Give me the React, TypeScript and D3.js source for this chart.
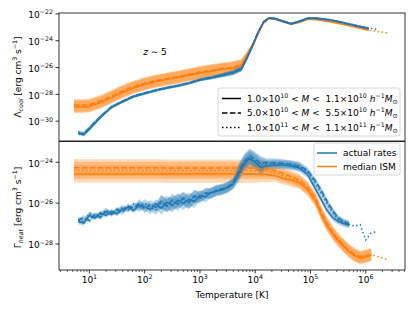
import React from 'react';
import * as d3 from 'd3';

// log10 temperature grids
const coolLogT = [0.72, 0.8, 0.9, 1.0, 1.2, 1.4, 1.6, 1.8, 2.0, 2.2, 2.4, 2.6, 2.8, 3.0, 3.2, 3.4, 3.6, 3.75, 3.85, 3.95,
  4.05, 4.15, 4.25, 4.35, 4.5, 4.65, 4.8, 4.95, 5.1, 5.3, 5.5, 5.7, 5.9, 6.05, 6.2, 6.4];

// log10 cooling rates, median ISM (orange) for the three mass bins
const coolIsmSolid = [-28.94, -28.94, -28.94, -28.9, -28.62, -28.24, -27.86, -27.52, -27.26, -27.05, -26.9, -26.75, -26.58,
  -26.42, -26.28, -26.15, -26.05, -25.85, -25.15, -24.4, -23.5, -22.65, -22.32, -22.35, -22.55, -22.75, -22.58, -22.36,
  -22.38, -22.5, -22.66, -22.83, -23.02, -23.18, null, null];
const coolIsmDashed = [-28.8, -28.8, -28.8, -28.76, -28.5, -28.12, -27.74, -27.42, -27.17, -26.97, -26.82, -26.67, -26.5,
  -26.34, -26.2, -26.07, -25.96, -25.75, -25.1, -24.35, -23.48, -22.66, -22.33, -22.36, -22.56, -22.76, -22.6, -22.38,
  -22.4, -22.52, -22.68, -22.85, -23.05, -23.2, null, null];
const coolIsmDotted = [-28.88, -28.88, -28.88, -28.84, -28.57, -28.19, -27.81, -27.48, -27.22, -27.02, -26.87, -26.72, -26.55,
  -26.39, -26.25, -26.12, -26.01, -25.8, -25.12, -24.38, -23.49, -22.65, -22.32, -22.35, -22.55, -22.75, -22.59, -22.37,
  -22.39, -22.51, -22.67, -22.84, -23.04, -23.19, -23.3, -23.42];
const coolIsmBand = [0.45, 0.45, 0.45, 0.45, 0.45, 0.45, 0.45, 0.45, 0.45, 0.45, 0.45, 0.45, 0.45, 0.45, 0.45, 0.45, 0.45,
  0.4, 0.3, 0.2, 0.15, 0.12, 0.1, 0.1, 0.1, 0.1, 0.1, 0.1, 0.1, 0.1, 0.1, 0.1, 0.1, 0.1, null, null];

// log10 cooling rates, actual (blue)
const coolActSolid = [null, -30.88, -31.0, -30.6, -29.72, -28.98, -28.55, -28.18, -27.94, -27.72, -27.52, -27.38, -27.18,
  -26.93, -26.78, -26.6, -26.4, -26.12, -25.3, -24.4, -23.4, -22.6, -22.3, -22.34, -22.54, -22.73, -22.55, -22.33,
  -22.32, -22.42, -22.57, -22.76, -22.95, -23.08, null, null];
const coolActDashed = [null, -30.95, -30.9, -30.5, -29.65, -28.92, -28.5, -28.12, -27.9, -27.68, -27.5, -27.33, -27.14,
  -26.9, -26.74, -26.56, -26.36, -26.05, -25.25, -24.35, -23.38, -22.6, -22.31, -22.35, -22.55, -22.74, -22.56, -22.34,
  -22.33, -22.43, -22.58, -22.78, -22.97, -23.1, null, null];
const coolActDotted = [null, -30.8, -30.98, -30.55, -29.68, -28.95, -28.52, -28.15, -27.92, -27.7, -27.51, -27.36, -27.16,
  -26.91, -26.76, -26.58, -26.38, -26.08, -25.28, -24.38, -23.39, -22.6, -22.3, -22.34, -22.54, -22.73, -22.55, -22.33,
  -22.31, -22.4, -22.55, -22.74, -22.92, -23.05, -23.15, null];
const coolActBand = [0.12, 0.12, 0.15, 0.15, 0.12, 0.1, 0.1, 0.1, 0.1, 0.1, 0.1, 0.1, 0.1, 0.12, 0.12, 0.15, 0.18, 0.2,
  0.2, 0.15, 0.12, 0.1, 0.08, 0.08, 0.08, 0.08, 0.08, 0.08, 0.08, 0.08, 0.08, 0.08, 0.08, 0.08, null, null];

const heatLogT = [0.72, 0.8, 0.9, 1.0, 1.1, 1.2, 1.3, 1.4, 1.5, 1.6, 1.7, 1.8, 1.9, 2.0, 2.1, 2.2, 2.3, 2.4, 2.5, 2.6,
  2.7, 2.8, 2.9, 3.0, 3.1, 3.2, 3.3, 3.4, 3.5, 3.6, 3.7, 3.8, 3.9, 4.0, 4.1, 4.2, 4.35, 4.5, 4.65, 4.8, 4.95, 5.1, 5.2,
  5.3, 5.4, 5.5, 5.6, 5.7, 5.8, 5.9, 6.0, 6.1, 6.2, 6.3, 6.4];

// log10 heating rates, median ISM (orange)
const heatIsmSolid = [-24.57, -24.57, -24.57, -24.57, -24.57, -24.57, -24.57, -24.57, -24.57, -24.57, -24.57, -24.57,
  -24.57, -24.57, -24.57, -24.57, -24.57, -24.58, -24.58, -24.58, -24.58, -24.58, -24.58, -24.58, -24.58, -24.58, -24.58,
  -24.58, -24.58, -24.58, -24.58, -24.58, -24.58, -24.58, -24.58, -24.6, -24.65, -24.78, -24.88, -25.0, -25.35, -25.95,
  -26.6, -27.1, -27.5, -27.85, -28.12, -28.38, -28.58, -28.7, -28.63, -28.55, null, null, null];
const heatIsmDashed = [-24.27, -24.27, -24.27, -24.27, -24.27, -24.27, -24.27, -24.27, -24.27, -24.27, -24.27, -24.27,
  -24.27, -24.27, -24.27, -24.27, -24.27, -24.28, -24.28, -24.28, -24.28, -24.28, -24.28, -24.28, -24.28, -24.28, -24.28,
  -24.28, -24.28, -24.28, -24.28, -24.28, -24.28, -24.28, -24.3, -24.32, -24.4, -24.55, -24.7, -24.88, -25.22, -25.8,
  -26.45, -26.98, -27.4, -27.75, -28.05, -28.3, -28.5, -28.62, -28.57, -28.5, null, null, null];
const heatIsmDotted = [-24.4, -24.4, -24.4, -24.4, -24.4, -24.4, -24.4, -24.4, -24.4, -24.4, -24.4, -24.4, -24.4, -24.4,
  -24.4, -24.4, -24.4, -24.4, -24.4, -24.4, -24.4, -24.4, -24.4, -24.4, -24.4, -24.4, -24.4, -24.4, -24.4, -24.4, -24.4,
  -24.4, -24.4, -24.4, -24.42, -24.44, -24.52, -24.66, -24.8, -24.95, -25.3, -25.88, -26.52, -27.04, -27.45, -27.8,
  -28.08, -28.34, -28.54, -28.66, -28.6, -28.53, -28.6, -28.68, -28.78];
const heatIsmBand = [0.42, 0.42, 0.42, 0.42, 0.42, 0.42, 0.42, 0.42, 0.42, 0.42, 0.42, 0.42, 0.42, 0.42, 0.42, 0.42,
  0.42, 0.42, 0.42, 0.42, 0.42, 0.42, 0.42, 0.42, 0.42, 0.42, 0.42, 0.42, 0.42, 0.42, 0.42, 0.42, 0.42, 0.42, 0.4, 0.38,
  0.32, 0.3, 0.3, 0.3, 0.3, 0.3, 0.3, 0.3, 0.3, 0.3, 0.3, 0.3, 0.3, 0.3, 0.3, 0.3, null, null, null];

// log10 heating rates, actual (blue)
const heatActSolid = [null, -26.91, -26.98, -26.6, -26.72, -26.48, -26.6, -26.4, -26.52, -26.3, -26.2, -26.36, -26.1,
  -26.18, -26.32, -26.02, -26.25, -25.95, -26.12, -25.85, -26.02, -25.8, -25.92, -25.62, -25.7, -25.48, -25.42, -25.36,
  -25.25, -25.08, -24.6, -24.1, -23.82, -24.0, -24.25, -24.18, -24.13, -24.14, -24.18, -24.28, -24.62, -25.35, -25.85,
  -26.35, -26.7, -26.9, -27.0, -27.06, null, null, null, null, null, null, null];
const heatActDashed = [null, -26.85, -26.7, -26.85, -26.55, -26.7, -26.42, -26.55, -26.3, -26.45, -26.15, -26.25, -26.0,
  -26.3, -26.05, -26.2, -25.9, -26.15, -25.85, -26.05, -25.75, -25.95, -25.65, -25.75, -25.5, -25.55, -25.35, -25.3,
  -25.2, -25.0, -24.45, -23.95, -23.68, -23.85, -24.05, -24.0, -24.02, -24.05, -24.1, -24.18, -24.4, -24.95, -25.4,
  -25.9, -26.35, -26.72, -26.9, -27.0, null, null, null, null, null, null, null];
const heatActDotted = [null, -26.8, -26.9, -26.5, -26.65, -26.58, -26.35, -26.5, -26.4, -26.2, -26.35, -26.05, -26.25,
  -26.0, -26.2, -26.35, -25.95, -26.1, -26.0, -25.9, -25.8, -25.98, -25.7, -25.68, -25.55, -25.5, -25.38, -25.32,
  -25.22, -25.05, -24.5, -24.0, -23.75, -23.9, -24.12, -24.08, -24.06, -24.08, -24.12, -24.22, -24.48, -25.1, -25.55,
  -26.05, -26.45, -26.78, -26.95, -27.05, -27.12, -27.05, -27.8, -27.45, -27.4, null, null];
const heatActBand = [null, 0.12, 0.12, 0.12, 0.12, 0.12, 0.12, 0.12, 0.12, 0.12, 0.12, 0.12, 0.2, 0.2, 0.2, 0.2, 0.32,
  0.32, 0.32, 0.32, 0.32, 0.32, 0.32, 0.25, 0.25, 0.25, 0.25, 0.25, 0.25, 0.25, 0.35, 0.35, 0.35, 0.35, 0.35, 0.2, 0.2,
  0.2, 0.2, 0.2, 0.15, 0.15, 0.15, 0.15, 0.15, 0.15, 0.15, 0.15, null, null, null, null, null, null, null];

const xMajor = [1, 2, 3, 4, 5, 6];
const yTopMajor = [-22, -24, -26, -28, -30];
const yBotMajor = [-24, -26, -28];
const massLabels = [
  ['1.0', '10', '1.1', '10'],
  ['5.0', '10', '5.5', '10'],
  ['1.0', '11', '1.1', '11'],
];
const kindLabels = ['actual rates', 'median ISM'];

const BLUE = '#1f77b4';
const ORANGE = '#ff7f0e';
const FONT = 'DejaVu Sans';
const dashes = [null, '5.5,2.4', '1.5,2.5'];

const L = 59, R = 405;
const T1 = 13, B1 = 141, T2 = 141, B2 = 270;

const x = d3.scaleLog().domain([10 ** 0.45, 10 ** 6.71]).range([L, R]);
const yTop = d3.scaleLog().domain([10 ** -31.48, 10 ** -21.93]).range([B1, T1]);
const yBot = d3.scaleLog().domain([10 ** -29.27, 10 ** -22.96]).range([B2, T2]);

type Seg = { t: string; s?: 'sup' | 'sub'; i?: boolean };

function Rich({ segs, size = 9, ...rest }: { segs: Seg[]; size?: number; [k: string]: any }) {
  let cur = 0;
  return (
    <text fontSize={size} style={{ whiteSpace: 'pre' }} {...rest}>
      {segs.map((g, k) => {
        const target = g.s === 'sup' ? -size * 0.42 : g.s === 'sub' ? size * 0.22 : 0;
        const dy = target - cur;
        cur = target;
        return (
          <tspan key={k} dy={dy} fontSize={g.s ? size * 0.7 : size} fontStyle={g.i ? 'italic' : 'normal'}>
            {g.t}
          </tspan>
        );
      })}
    </text>
  );
}

type P = { t: number; v: number | null; w: number | null };

function pts(xs: number[], ys: (number | null)[], band: (number | null)[]): P[] {
  return xs.map((t, i) => ({ t, v: ys[i], w: band[i] }));
}

function bandPath(p: P[], y: any) {
  return d3.area<P>()
    .defined(d => d.v != null && d.w != null)
    .x(d => x(10 ** d.t))
    .y0(d => y(10 ** ((d.v as number) - (d.w as number))))
    .y1(d => y(10 ** ((d.v as number) + (d.w as number))))(p) || '';
}

function linePath(p: P[], y: any) {
  return d3.line<P>()
    .defined(d => d.v != null)
    .x(d => x(10 ** d.t))
    .y(d => y(10 ** (d.v as number)))(p) || '';
}

function Panel({ groups, y, clip }: { groups: { color: string; data: P[][] }[]; y: any; clip: string }) {
  return (
    <g clipPath={`url(#${clip})`}>
      {groups.map((g, gi) => g.data.map((p, k) => (
        <path key={`b${gi}${k}`} d={bandPath(p, y)} fill={g.color} fillOpacity={0.3} stroke="none" />
      )))}
      {groups.map((g, gi) => g.data.map((p, k) => (
        <path key={`l${gi}${k}`} d={linePath(p, y)} fill="none" stroke={g.color} strokeWidth={1.5}
          strokeDasharray={dashes[k] || undefined} />
      )))}
    </g>
  );
}

function YAxis({ y, ticks }: { y: any; ticks: number[] }) {
  return (
    <g>
      {ticks.map(t => {
        const yy = y(10 ** t);
        return (
          <g key={t}>
            <line x1={L - 3.5} x2={L} y1={yy} y2={yy} stroke="#000" strokeWidth={0.8} />
            <Rich segs={[{ t: '10' }, { t: `\u2212${-t}`, s: 'sup' }]} x={L - 6} y={yy + 4.3} textAnchor="end" />
          </g>
        );
      })}
    </g>
  );
}

export default function App() {
  const top = [
    { color: ORANGE, data: [pts(coolLogT, coolIsmSolid, coolIsmBand), pts(coolLogT, coolIsmDashed, coolIsmBand), pts(coolLogT, coolIsmDotted, coolIsmBand)] },
    { color: BLUE, data: [pts(coolLogT, coolActSolid, coolActBand), pts(coolLogT, coolActDashed, coolActBand), pts(coolLogT, coolActDotted, coolActBand)] },
  ];
  const bot = [
    { color: ORANGE, data: [pts(heatLogT, heatIsmSolid, heatIsmBand), pts(heatLogT, heatIsmDashed, heatIsmBand), pts(heatLogT, heatIsmDotted, heatIsmBand)] },
    { color: BLUE, data: [pts(heatLogT, heatActSolid, heatActBand), pts(heatLogT, heatActDashed, heatActBand), pts(heatLogT, heatActDotted, heatActBand)] },
  ];

  const [d0, d1] = x.domain();
  const minor: number[] = [];
  for (let k = 0; k <= 6; k++) {
    for (let m = 2; m <= 9; m++) {
      const v = m * 10 ** k;
      if (v >= d0 && v <= d1) minor.push(v);
    }
  }

  return (
    <svg width={415} height={311} style={{ position: 'absolute', left: 0, top: 0 }} fontFamily={FONT}>
      <defs>
        <clipPath id="clipTop"><rect x={L} y={T1} width={R - L} height={B1 - T1} /></clipPath>
        <clipPath id="clipBot"><rect x={L} y={T2} width={R - L} height={B2 - T2} /></clipPath>
      </defs>
      <rect width={415} height={311} fill="#fff" />

      <Panel groups={top} y={yTop} clip="clipTop" />
      <Panel groups={bot} y={yBot} clip="clipBot" />

      <rect x={L} y={T1} width={R - L} height={B1 - T1} fill="none" stroke="#000" strokeWidth={0.8} />
      <rect x={L} y={T2 + 0.6} width={R - L} height={B2 - T2 - 0.6} fill="none" stroke="#000" strokeWidth={0.8} />

      <YAxis y={yTop} ticks={yTopMajor} />
      <YAxis y={yBot} ticks={yBotMajor} />

      {minor.map(v => (
        <line key={v} x1={x(v)} x2={x(v)} y1={B2} y2={B2 + 2} stroke="#000" strokeWidth={0.6} />
      ))}
      {xMajor.map(k => (
        <g key={k}>
          <line x1={x(10 ** k)} x2={x(10 ** k)} y1={B2} y2={B2 + 3.5} stroke="#000" strokeWidth={0.8} />
          <Rich segs={[{ t: '10' }, { t: `${k}`, s: 'sup' }]} x={x(10 ** k)} y={B2 + 13} textAnchor="middle" />
        </g>
      ))}

      <text x={(L + R) / 2} y={298} fontSize={9} textAnchor="middle">Temperature [K]</text>

      <g transform={`translate(21,${(T1 + B1) / 2}) rotate(-90)`}>
        <Rich segs={[{ t: '\u039b' }, { t: 'cool', s: 'sub', i: true }, { t: ' [erg cm' }, { t: '3', s: 'sup' }, { t: ' s' }, { t: '\u22121', s: 'sup' }, { t: ']' }]}
          x={0} y={0} textAnchor="middle" />
      </g>
      <g transform={`translate(21,${(T2 + B2) / 2 + 2}) rotate(-90)`}>
        <Rich segs={[{ t: '\u0393' }, { t: 'heat', s: 'sub', i: true }, { t: ' [erg cm' }, { t: '3', s: 'sup' }, { t: ' s' }, { t: '\u22121', s: 'sup' }, { t: ']' }]}
          x={0} y={0} textAnchor="middle" />
      </g>

      <Rich segs={[{ t: 'z', i: true }, { t: ' \u223c 5' }]} x={155} y={55} textAnchor="middle" />

      {/* mass legend */}
      <rect x={218} y={88} width={182} height={48} rx={2} fill="#fff" fillOpacity={0.8} stroke="#ccc" strokeWidth={0.8} />
      {massLabels.map((m, k) => {
        const yy = 98.5 + k * 14.5;
        return (
          <g key={k}>
            <line x1={222} x2={241} y1={yy} y2={yy} stroke="#000" strokeWidth={1.5} strokeDasharray={dashes[k] || undefined} />
            <Rich x={247} y={yy + 3.2}
              segs={[{ t: `${m[0]}\u00d710` }, { t: m[1], s: 'sup' }, { t: ' < ' }, { t: 'M', i: true }, { t: ' <  ' + `${m[2]}\u00d710` },
                { t: m[3], s: 'sup' }, { t: ' ' }, { t: 'h', i: true }, { t: '\u22121', s: 'sup' }, { t: 'M', i: true }, { t: '\u2299', s: 'sub' }]} />
          </g>
        );
      })}

      {/* kind legend */}
      <rect x={314} y={143} width={86} height={32} rx={2} fill="#fff" fillOpacity={0.8} stroke="#ccc" strokeWidth={0.8} />
      {kindLabels.map((lab, k) => {
        const yy = 153 + k * 13.5;
        return (
          <g key={lab}>
            <line x1={317} x2={337} y1={yy} y2={yy} stroke={k === 0 ? BLUE : ORANGE} strokeWidth={1.5} />
            <text x={343} y={yy + 3.2} fontSize={9}>{lab}</text>
          </g>
        );
      })}
    </svg>
  );
}
